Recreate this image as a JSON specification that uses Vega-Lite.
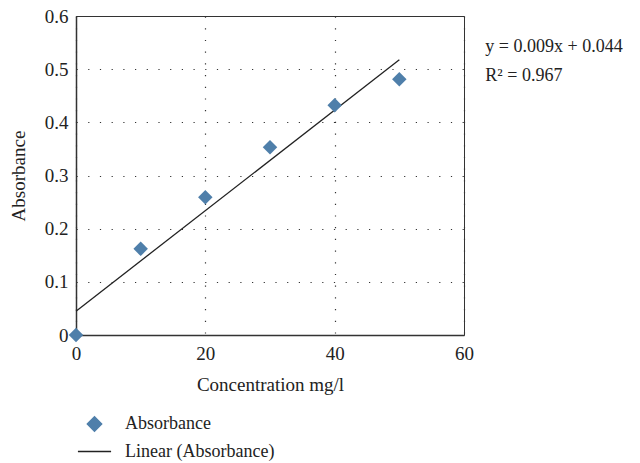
{
  "$schema": "https://vega.github.io/schema/vega-lite/v6.json",
  "width": 388,
  "height": 319,
  "autosize": "none",
  "padding": {"left": 76, "top": 16, "right": 176, "bottom": 128},
  "background": "white",
  "config": {
    "font": "Liberation Serif",
    "view": {"stroke": "#333333", "strokeWidth": 1},
    "axis": {
      "labelFont": "Liberation Serif",
      "titleFont": "Liberation Serif",
      "labelFontSize": 19,
      "titleFontSize": 19,
      "labelColor": "#222222",
      "titleColor": "#222222",
      "titleFontWeight": "normal",
      "ticks": false,
      "labelFlush": false,
      "domainColor": "#333333",
      "domainWidth": 1.5,
      "gridColor": "#333333",
      "gridDash": [1.2, 10.5],
      "gridWidth": 1.2
    },
    "legend": {
      "labelFont": "Liberation Serif",
      "labelFontSize": 18,
      "labelColor": "#222222"
    }
  },
  "layer": [
    {
      "data": {"values": [
        {"conc": 0, "abs": 0.0, "series": "Absorbance"},
        {"conc": 10, "abs": 0.162, "series": "Absorbance"},
        {"conc": 20, "abs": 0.259, "series": "Absorbance"},
        {"conc": 30, "abs": 0.353, "series": "Absorbance"},
        {"conc": 40, "abs": 0.432, "series": "Absorbance"},
        {"conc": 50, "abs": 0.481, "series": "Absorbance"}
      ]},
      "layer": [
        {
          "transform": [{"regression": "abs", "on": "conc", "method": "linear"}, {"calculate": "'Linear (Absorbance)'", "as": "series"}],
          "mark": {"type": "line", "strokeWidth": 1.3, "clip": false},
          "encoding": {
            "x": {"field": "conc", "type": "quantitative"},
            "y": {"field": "abs", "type": "quantitative"},
            "color": {"field": "series", "type": "nominal"}
          }
        },
        {
          "mark": {"type": "point", "filled": true, "opacity": 1, "clip": false},
          "encoding": {
            "x": {
              "field": "conc", "type": "quantitative",
              "scale": {"domain": [0, 60], "nice": false},
              "axis": {"values": [0, 20, 40, 60], "title": "Concentration mg/l", "labelPadding": 9, "titlePadding": 12}
            },
            "y": {
              "field": "abs", "type": "quantitative",
              "scale": {"domain": [0, 0.6], "nice": false},
              "axis": {"values": [0, 0.1, 0.2, 0.3, 0.4, 0.5, 0.6], "format": "~g", "title": "Absorbance", "labelPadding": 8, "titlePadding": 16}
            },
            "color": {
              "field": "series", "type": "nominal",
              "scale": {"domain": ["Absorbance", "Linear (Absorbance)"], "range": ["#4f7faa", "#222222"]},
              "legend": {"title": null, "orient": "none", "legendX": 1, "legendY": 399, "labelOffset": 13, "rowPadding": -7, "symbolStrokeWidth": 1.3}
            },
            "shape": {
              "field": "series", "type": "nominal",
              "scale": {"domain": ["Absorbance", "Linear (Absorbance)"], "range": ["diamond", "stroke"]},
              "legend": {"title": null, "orient": "none", "legendX": 1, "legendY": 399, "labelOffset": 13, "rowPadding": -7, "symbolStrokeWidth": 1.3}
            },
            "size": {
              "field": "series", "type": "nominal",
              "scale": {"domain": ["Absorbance", "Linear (Absorbance)"], "range": [210, 1100]},
              "legend": {"title": null, "orient": "none", "legendX": 1, "legendY": 399, "labelOffset": 13, "rowPadding": -7, "symbolStrokeWidth": 1.3}
            }
          }
        }
      ]
    },
    {
      "data": {"values": [
        {"conc": 63.3, "abs": 0.541, "label": "y = 0.009x + 0.044"},
        {"conc": 63.3, "abs": 0.487, "label": "R² = 0.967"}
      ]},
      "mark": {"type": "text", "align": "left", "baseline": "middle", "fontSize": 18, "font": "Liberation Serif", "color": "#222222", "clip": false},
      "encoding": {
        "x": {"field": "conc", "type": "quantitative"},
        "y": {"field": "abs", "type": "quantitative"},
        "text": {"field": "label"}
      }
    }
  ]
}
